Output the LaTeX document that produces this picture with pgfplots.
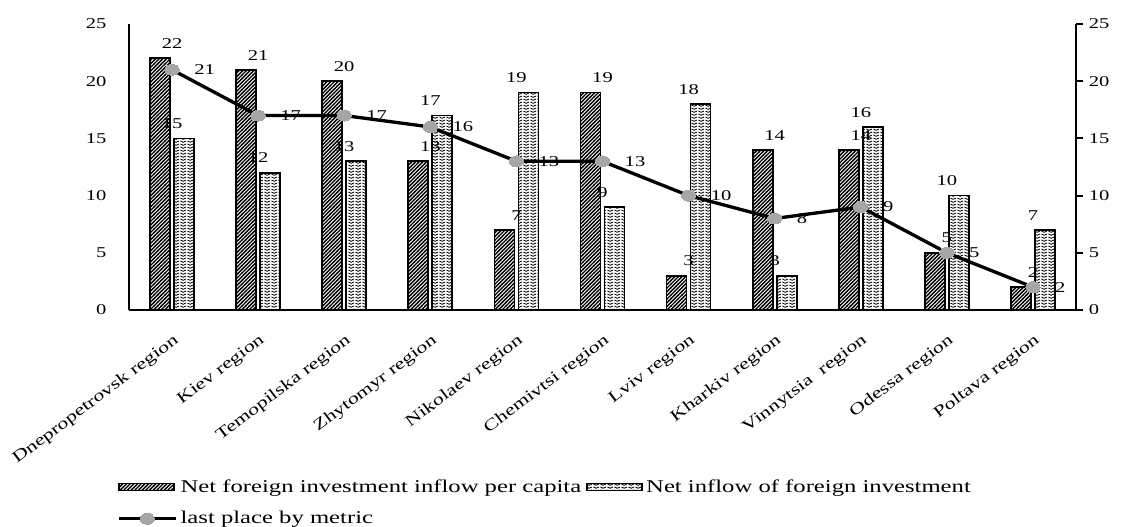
\documentclass[border=0pt]{standalone}
\usepackage{fontspec}
\setmainfont{Liberation Serif}[FakeStretch=1.37]
\usepackage{pgfplots}
\pgfplotsset{compat=1.18}
\usetikzlibrary{patterns}

\pgfdeclarepatternformonly{myhatch}{\pgfqpoint{-1pt}{-1pt}}{\pgfqpoint{3.2pt}{3.2pt}}{\pgfqpoint{2.2pt}{2.2pt}}{%
  \pgfsetlinewidth{0.8pt}%
  \pgfpathmoveto{\pgfqpoint{-0.2pt}{-0.2pt}}%
  \pgfpathlineto{\pgfqpoint{2.4pt}{2.4pt}}%
  \pgfusepath{stroke}}
\pgfdeclarepatternformonly{mywaves}{\pgfqpoint{0pt}{0pt}}{\pgfqpoint{4pt}{1.9pt}}{\pgfqpoint{4pt}{1.9pt}}{%
  \pgfsetlinewidth{0.6pt}%
  \pgfpathmoveto{\pgfqpoint{0.3pt}{1.5pt}}%
  \pgfpathcurveto{\pgfqpoint{1.0pt}{0.2pt}}{\pgfqpoint{3.0pt}{0.2pt}}{\pgfqpoint{3.7pt}{1.5pt}}%
  \pgfusepath{stroke}}

\definecolor{markgray}{RGB}{166,166,166}

\pgfplotsset{
  barlegend/.style={legend image code/.code={\draw[##1] (0pt,-2.1pt) rectangle (33pt,2.1pt);}},
  linelegend/.style={legend image code/.code={\draw[##1, mark repeat=2, mark phase=2] plot coordinates {(0pt,0pt) (17pt,0pt) (34pt,0pt)};}},
}

\begin{document}
\begin{tikzpicture}[font=\fontsize{9pt}{10pt}\selectfont]
\begin{axis}[
  scale only axis, width=568.2pt, height=171.6pt,
  xmin=-0.5, xmax=10.5, ymin=0, ymax=25,
  axis x line*=bottom, axis y line*=left,
  axis line style={line width=1.1pt,-},
  xtick={0,...,10},
  xticklabels={Dnepropetrovsk region, Kiev region, Temopilska region, Zhytomyr region, Nikolaev region, Chemivtsi region, Lviv region, Kharkiv region, Vinnytsia~ region, Odessa region, Poltava region},
  xtick style={draw=none}, ytick={0,5,...,25}, ytick style={draw=none},
  xticklabel style={rotate=37, anchor=north east, inner sep=1pt, xshift=-7pt, yshift=-10pt, font=\fontsize{9.6pt}{10pt}\selectfont},
  yticklabel style={xshift=-10pt, font=\fontsize{9pt}{10pt}\selectfont},
  /pgf/number format/assume math mode=true,
  clip=false,
  legend columns=2,
  legend cell align=left,
  legend style={draw=none, fill=none, at={(-0.018,-0.568)}, anchor=north west, row sep=6pt,
    font=\fontsize{10.8pt}{11pt}\selectfont,
    /tikz/every even column/.append style={column sep=1pt}},
]
\coordinate (O) at (rel axis cs:0,0);
\addplot[ybar, bar width=12pt, bar shift=-7.2pt, draw=black, line width=1pt, pattern=myhatch,
  nodes near coords, every node near coord/.append style={anchor=south, yshift=2pt, text=black, font=\fontsize{9pt}{10pt}\selectfont},
  barlegend]
  coordinates {(0,22) (1,21) (2,20) (3,13) (4,7) (5,19) (6,3) (7,14) (8,14) (9,5) (10,2)};
\addlegendentry{Net foreign investment inflow per capita}
\addplot[ybar, bar width=12pt, bar shift=7.2pt, draw=black, line width=1pt, pattern=mywaves,
  nodes near coords, every node near coord/.append style={anchor=south, yshift=2pt, text=black, font=\fontsize{9pt}{10pt}\selectfont},
  barlegend]
  coordinates {(0,15) (1,12) (2,13) (3,17) (4,19) (5,9) (6,18) (7,3) (8,16) (9,10) (10,7)};
\addlegendentry{Net inflow of foreign investment}
\addplot[black, line width=2pt, mark=*, mark size=3.3pt,
  mark options={fill=markgray, draw=markgray, line width=0pt, xscale=1.3},
  nodes near coords, every node near coord/.append style={anchor=west, xshift=10pt, text=black, font=\fontsize{9pt}{10pt}\selectfont},
  linelegend]
  coordinates {(0,21) (1,17) (2,17) (3,16) (4,13) (5,13) (6,10) (7,8) (8,9) (9,5) (10,2)};
\addlegendentry{last place by metric}
\end{axis}
\begin{axis}[
  scale only axis, width=568.2pt, height=171.6pt,
  xmin=-0.5, xmax=10.5, ymin=0, ymax=25,
  axis x line=none, axis y line*=right,
  axis line style={line width=1.1pt,-},
  ytick={0,5,...,25}, tick align=outside, major tick length=4.2pt,
  ytick style={line width=1.1pt, black},
  yticklabel style={font=\fontsize{9pt}{10pt}\selectfont},
  /pgf/number format/assume math mode=true,
]
\addplot[draw=none] coordinates {(0,0)};
\end{axis}
\pgfresetboundingbox
\path[use as bounding box] ([shift={(-77.4pt,-129.6pt)}]O) rectangle ([shift={(596.4pt,186pt)}]O);
\end{tikzpicture}
\end{document}
